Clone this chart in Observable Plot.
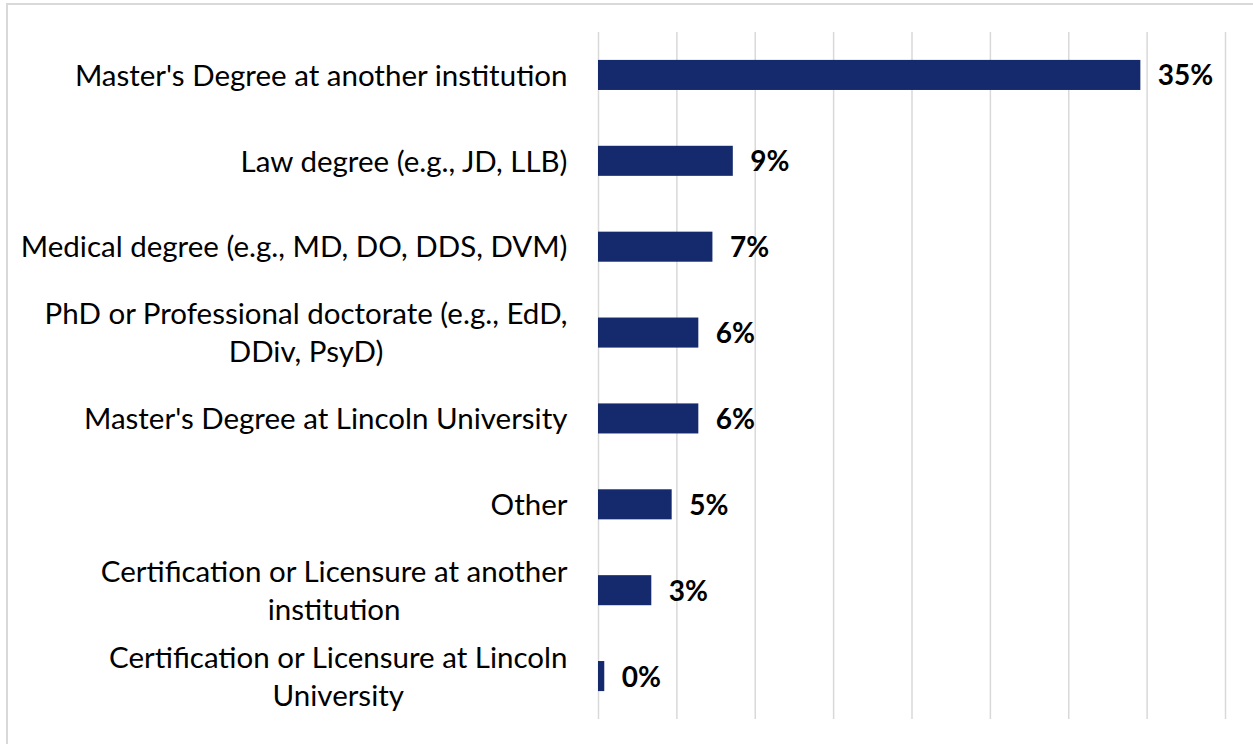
<!DOCTYPE html>
<html>
<head>
<meta charset="utf-8">
<script src="https://cdn.jsdelivr.net/npm/d3@7"></script>
<script src="https://cdn.jsdelivr.net/npm/@observablehq/plot@0.6"></script>
<style>
  html, body { margin: 0; padding: 0; background: #fff; overflow: hidden; }
  #wrap { position: relative; width: 1253px; height: 744px; }
  #frame { position: absolute; left: 6px; top: 3px; width: 1400px; height: 900px; border: 2px solid #d9d9d9; box-sizing: border-box; pointer-events: none; }
  #chart { position: absolute; left: 0; top: 0; }
</style>
</head>
<body>
<div id="wrap"><div id="frame"></div><div id="chart"></div></div>
<script>
const categories = [
  "Master's Degree at another institution",
  "Law degree (e.g., JD, LLB)",
  "Medical degree (e.g., MD, DO, DDS, DVM)",
  "PhD or Professional doctorate (e.g., EdD,\nDDiv, PsyD)",
  "Master's Degree at Lincoln University",
  "Other",
  "Certification or Licensure at another\ninstitution",
  "Certification or Licensure at Lincoln\nUniversity"
];
const values = [34.6, 8.6, 7.3, 6.4, 6.4, 4.7, 3.4, 0.4];
const xTicks = [0, 5, 10, 15, 20, 25, 30, 35, 40];

const data = categories.map((c, i) => ({category: c, value: values[i]}));
const FONT = "Lato, 'Open Sans', sans-serif";

const chart = Plot.plot({
  width: 1253,
  height: 744,
  marginLeft: 598,
  marginRight: 28,
  marginTop: 32,
  marginBottom: 25,
  style: {fontFamily: FONT, fontSize: "29.5px", color: "#000", background: "transparent"},
  x: {domain: [0, 40], axis: null},
  y: {domain: categories, paddingInner: 0.65, paddingOuter: 0.325, align: 0.5, round: false, label: null},
  marks: [
    Plot.ruleX(xTicks, {stroke: "#d9d9d9", strokeWidth: 1.5}),
    Plot.barX(data, {x: "value", y: "category", fill: "#152a6c"}),
    Plot.text(data, {x: "value", y: "category", text: d => Math.round(d.value) + "%", textAnchor: "start", dx: 17, dy: 1, fontWeight: "bold", fontSize: 28, fill: "#000"}),
    Plot.axisY({tickSize: 0, tickPadding: 31, dy: -2, fontSize: 29.5, lineHeight: 1.29, label: null, tickFormat: d => d, fill: "#000"})
  ]
});
document.getElementById("chart").appendChild(chart);

// center multi-line category labels within their right-aligned block (as in the original)
d3.select(chart).selectAll("g[aria-label='y-axis tick label'] text").each(function() {
  const tspans = this.querySelectorAll("tspan");
  if (tspans.length < 2) return;
  let maxW = 0;
  tspans.forEach(t => { maxW = Math.max(maxW, t.getComputedTextLength()); });
  this.setAttribute("text-anchor", "middle");
  tspans.forEach(t => t.setAttribute("x", -maxW / 2));
});
</script>
</body>
</html>
